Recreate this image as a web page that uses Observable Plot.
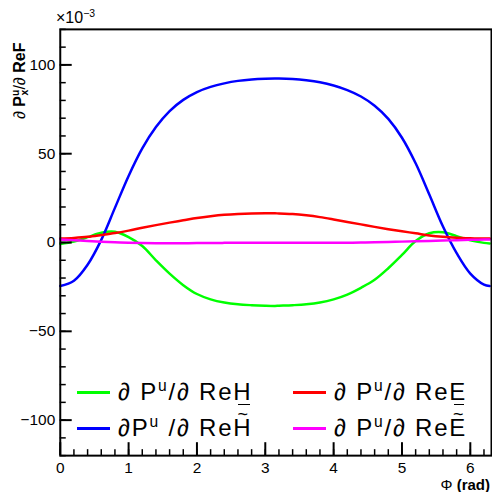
<!DOCTYPE html>
<html><head><meta charset="utf-8">
<script src="https://cdn.jsdelivr.net/npm/d3@7"></script>
<script src="https://cdn.jsdelivr.net/npm/@observablehq/plot@0.6"></script>
<style>
body{margin:0;background:#fff;font-family:"Liberation Sans",Arial,Helvetica,sans-serif;}
#wrap{position:relative;width:492px;height:492px;overflow:hidden;background:#fff;}
#wrap svg{position:absolute;left:0;top:0;}
.abs{position:absolute;white-space:nowrap;color:#000;line-height:1;}
.sup{font-size:0.65em;position:relative;top:-0.6em;}
.sub{font-size:0.65em;position:relative;top:0.3em;margin-left:-0.556em;}
.leg{font-size:24px;letter-spacing:1.8px;}
.sw{position:absolute;height:2.5px;}
.til{position:relative;display:inline-block;}
.til .t{position:absolute;left:0;right:0;text-align:center;top:-0.62em;font-size:0.75em;letter-spacing:0;line-height:1;}
.bar{position:relative;display:inline-block;}
.bar .b{position:absolute;left:25%;right:15%;bottom:-1px;height:1.5px;background:#000;}
</style></head><body><div id="wrap"></div>
<script>
// Phi (rad)
const phi = [0,0.2,0.4,0.6,0.8,1.0,1.2,1.4,1.6,1.8,2.0,2.2,2.4,2.6,2.8,3.0,3.1416,
             3.2,3.4,3.6,3.8,4.0,4.2,4.4,4.6,4.8,5.0,5.2,5.4,5.6,5.8,6.0,6.2,6.2832];
// values in units of 1e-3
const dReH = [-0.8,0.5,3,5.5,6,3,-2,-10,-17.5,-24,-29,-32,-33.8,-34.8,-35.3,-35.6,-35.7,
              -35.6,-35.3,-34.8,-33.8,-32,-29.3,-25.5,-21,-14.5,-7,0.8,5.2,5.8,3.6,1.2,-0.2,-0.5];
const dReHt = [-24.5,-21.5,-12.5,1.5,19.5,37.5,53,65,74,80.3,84.7,87.6,89.6,91,91.8,92.2,92.3,
               92.3,92,91.3,90.2,88.4,85.8,82.2,77,69.6,59,44.6,27,9,-6,-17.5,-23.7,-24.5];
const dReE = [2.2,2.6,3.2,4.2,5.3,6.7,8.3,9.8,11.2,12.5,13.8,14.8,15.6,16.1,16.4,16.5,16.5,
              16.3,16,15.3,14.3,13,11.6,10.2,8.8,7.5,6.3,5.2,4.0,3.2,2.7,2.4,2.2,2.2];
const dReEt = [1.7,1.3,0.8,0.4,0.1,-0.1,-0.3,-0.4,-0.4,-0.4,-0.3,-0.3,-0.2,-0.2,-0.1,-0.1,-0.1,
               -0.1,-0.1,-0.1,-0.1,-0.1,-0.1,0,0.1,0.3,0.5,0.7,0.9,1.1,1.3,1.5,1.7,1.7];

const xMajor = [0,1,2,3,4,5,6];
const xMinor = d3.range(0, 6.3, 0.2);
const yMajor = [-100,-50,0,50,100];
const yMinor = d3.range(-120, 121, 10);

const series = [
  {name:"dReH", vals:dReH, color:"#00ff00"},
  {name:"dReHt", vals:dReHt, color:"#0000ff"},
  {name:"dReE", vals:dReE, color:"#ff0000"},
  {name:"dReEt", vals:dReEt, color:"#ff00ff"}
];

const lineMarks = series.map(s =>
  Plot.line(phi.map((p,i)=>({phi:p, v:s.vals[i]})),
    {x:"phi", y:"v", stroke:s.color, strokeWidth:2.5, curve:"catmull-rom"}));

const fmt = d3.format("d");
const chart = Plot.plot({
  width:494, height:492,
  marginLeft:60, marginRight:1, marginTop:29, marginBottom:35,
  x:{domain:[0, 6.31], label:null},
  y:{domain:[-120,120], label:null},
  style:{fontFamily:"'Liberation Sans', Arial, sans-serif", background:"transparent", color:"#000"},
  marks:[
    ...lineMarks,
    Plot.axisX(xMinor, {tickSize:-6, fill:"none", strokeWidth:1.5, label:null}),
    Plot.axisX(xMajor, {tickSize:-13, fill:"none", strokeWidth:2, label:null}),
    Plot.axisX(xMajor, {tickSize:0, tickPadding:6, fontSize:15.5, tickFormat:fmt, label:null}),
    Plot.axisY(yMinor, {tickSize:-6, fill:"none", strokeWidth:1.5, label:null}),
    Plot.axisY(yMajor, {tickSize:-12, fill:"none", strokeWidth:2, label:null}),
    Plot.axisY(yMajor, {tickSize:0, tickPadding:5, fontSize:15.5, tickFormat:fmt, label:null}),
    Plot.frame({strokeWidth:2})
  ]
});
const wrap = document.getElementById("wrap");
wrap.appendChild(chart);

function add(html, style, cls="abs") {
  const d = document.createElement("div");
  d.className = cls;
  d.innerHTML = html;
  Object.assign(d.style, style);
  wrap.appendChild(d);
  return d;
}
// exponent label
add('×10<span class="sup">−3</span>', {left:"56px", top:"10px", fontSize:"16px"});
// x-axis title
add('Φ <b>(rad)</b>', {right:"2px", top:"477px", fontSize:"15px"});
// y-axis title (rotated)
add('∂ <b>P<span class="sup">u</span><span class="sub">x</span></b>/∂ <b>ReF</b>',
  {left:"12px", top:"119px", fontSize:"16px", transformOrigin:"0 0", transform:"rotate(-90deg)"});

// legend
const legend = [
  {color:"#00ff00", html:'∂ P<span class="sup">u</span>/∂ Re<span class="bar">H<span class="b"></span></span>', x:77, y:392},
  {color:"#ff0000", html:'∂ P<span class="sup">u</span>/∂ Re<span class="bar">E<span class="b"></span></span>', x:293, y:392},
  {color:"#0000ff", html:'∂P<span class="sup">u</span> /∂ Re<span class="til">H<span class="t">~</span></span>', x:77, y:428},
  {color:"#ff00ff", html:'∂ P<span class="sup">u</span>/∂ Re<span class="til">E<span class="t">~</span></span>', x:293, y:428}
];
for (const e of legend) {
  add('', {left:e.x+"px", top:(e.y-1)+"px", width:"33px", background:e.color}, "sw");
  add(e.html, {left:(e.x+41)+"px", top:(e.y-12)+"px"}, "abs leg");
}
</script>
</body></html>
